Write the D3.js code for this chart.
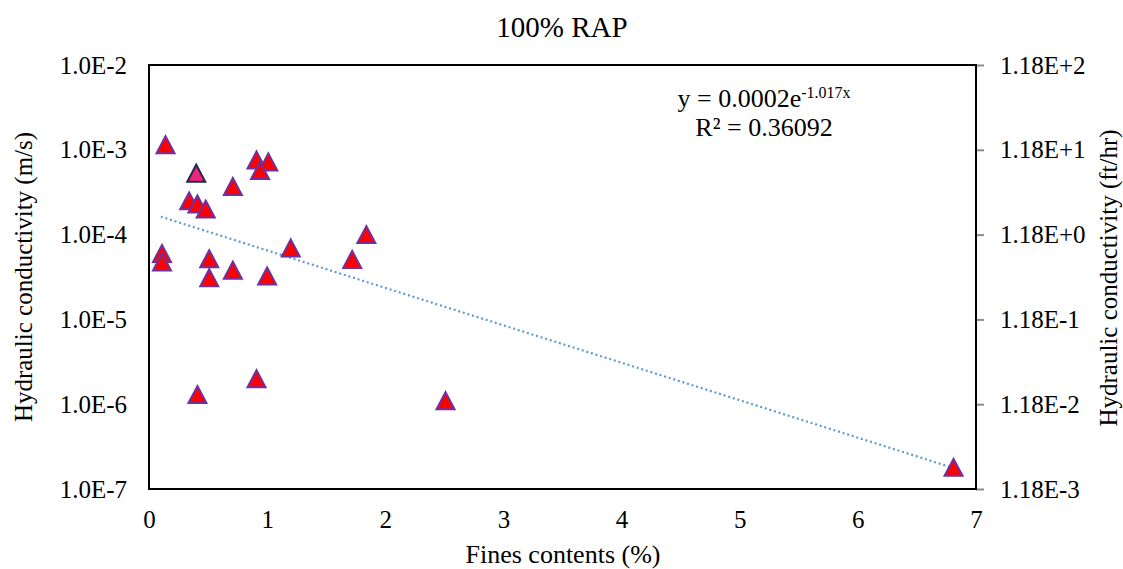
<!DOCTYPE html>
<html>
<head>
<meta charset="utf-8">
<script src="https://cdn.jsdelivr.net/npm/d3@7"></script>
<style>
  html, body { margin: 0; padding: 0; background: #fff; }
  svg { display: block; }
</style>
</head>
<body>
<svg id="chart" width="1123" height="569"></svg>
<script>
// Fines content (%) and hydraulic conductivity (m/s) for the 100% RAP specimens
const finesContent = [0.14, 0.91, 1.01, 0.94, 0.71, 0.34, 0.41, 0.48, 0.11, 0.11, 0.51, 0.51, 0.71, 1.00, 1.20, 1.84, 1.72, 0.41, 0.91, 2.51, 6.81];
const conductivity = [1.15e-3, 7.6e-4, 7.2e-4, 5.7e-4, 3.7e-4, 2.5e-4, 2.3e-4, 2.0e-4, 6.0e-5, 4.75e-5, 5.2e-5, 3.1e-5, 3.8e-5, 3.25e-5, 6.95e-5, 1.0e-4, 5.1e-5, 1.3e-6, 2.0e-6, 1.1e-6, 1.8e-7];

// Single specimen drawn with its own marker style
const markedFines = [0.40];
const markedConductivity = [5.3e-4];

// Exponential trendline y = a * e^(b x)
const trendA = 1.8e-4;
const trendB = -1.017;
const trendR2 = 0.36092;
const trendRange = [0.1, 6.8];

// Axis ticks
const xTicks = [0, 1, 2, 3, 4, 5, 6, 7];
const leftTicks = [1e-7, 1e-6, 1e-5, 1e-4, 1e-3, 1e-2];
const leftLabels = ["1.0E-7", "1.0E-6", "1.0E-5", "1.0E-4", "1.0E-3", "1.0E-2"];
const rightTicks = [1.18e-3, 1.18e-2, 1.18e-1, 1.18, 11.8, 118];
const rightLabels = ["1.18E-3", "1.18E-2", "1.18E-1", "1.18E+0", "1.18E+1", "1.18E+2"];

const FONT = "Liberation Serif";
const svg = d3.select("#chart");
const plot = { left: 149, right: 976, top: 65, bottom: 489 };

const x = d3.scaleLinear().domain([0, 7]).range([plot.left, plot.right]);
const y = d3.scaleLog().domain([1e-7, 1e-2]).range([plot.bottom, plot.top]);
const yRight = d3.scaleLog().domain([1.18e-3, 118]).range([plot.bottom, plot.top]);

function styleTicks(g) {
  g.attr("font-family", FONT).attr("font-size", 25);
  g.select(".domain").remove();
  g.selectAll(".tick text").attr("fill", "#000");
}

// Left axis (labels only)
svg.append("g")
  .attr("transform", `translate(${plot.left},0)`)
  .call(d3.axisLeft(y).tickValues(leftTicks).tickSize(0).tickPadding(22)
    .tickFormat((d, i) => leftLabels[i]))
  .call(styleTicks);

// Bottom axis (labels only)
svg.append("g")
  .attr("transform", `translate(0,${plot.bottom})`)
  .call(d3.axisBottom(x).tickValues(xTicks).tickSize(0).tickPadding(21)
    .tickFormat(d3.format("d")))
  .call(styleTicks);

// Right axis with short grey ticks
const rightAxis = svg.append("g")
  .attr("transform", `translate(${plot.right},0)`)
  .call(d3.axisRight(yRight).tickValues(rightTicks).tickSize(8).tickPadding(16)
    .tickFormat((d, i) => rightLabels[i]))
  .call(styleTicks);
rightAxis.selectAll(".tick line").attr("stroke", "#8c8c8c").attr("stroke-width", 2);

// Plot frame
svg.append("rect")
  .attr("x", plot.left).attr("y", plot.top)
  .attr("width", plot.right - plot.left).attr("height", plot.bottom - plot.top)
  .attr("fill", "none").attr("stroke", "#000").attr("stroke-width", 2);

// Trendline
const trendXs = d3.range(trendRange[0], trendRange[1] + 1e-9, 0.05);
svg.append("path")
  .datum(trendXs)
  .attr("fill", "none")
  .attr("stroke", "#5b9bd5")
  .attr("stroke-width", 2.2)
  .attr("stroke-dasharray", "2,2.8")
  .attr("d", d3.line().x(d => x(d)).y(d => y(trendA * Math.exp(trendB * d))));

// Triangle marker centred on its data point
const tri = (w, h) => `M0,${-h / 2}L${w / 2},${h / 2}L${-w / 2},${h / 2}Z`;

const points = finesContent.map((f, i) => ({ f, k: conductivity[i] }));
svg.append("g").selectAll("path")
  .data(points)
  .join("path")
  .attr("d", tri(18, 17))
  .attr("transform", d => `translate(${x(d.f)},${y(d.k)})`)
  .attr("fill", "#ff0000")
  .attr("stroke", "#7030a0")
  .attr("stroke-width", 2);

const marked = markedFines.map((f, i) => ({ f, k: markedConductivity[i] }));
svg.append("g").selectAll("path")
  .data(marked)
  .join("path")
  .attr("d", tri(18, 17))
  .attr("transform", d => `translate(${x(d.f)},${y(d.k)})`)
  .attr("fill", "#f5237a")
  .attr("stroke", "#1c2b4f")
  .attr("stroke-width", 2);

// Equation and R² label
const eq = svg.append("text")
  .attr("x", 764).attr("y", 107)
  .attr("text-anchor", "middle")
  .attr("font-family", FONT).attr("font-size", 26);
eq.append("tspan").text(`y = ${d3.format(".4f")(trendA)}e`);
eq.append("tspan").attr("dy", -9).attr("font-size", 16).text(`${trendB}x`);

svg.append("text")
  .attr("x", 764).attr("y", 136)
  .attr("text-anchor", "middle")
  .attr("font-family", FONT).attr("font-size", 26)
  .text(`R² = ${trendR2}`);

// Titles
svg.append("text")
  .attr("x", 562).attr("y", 37)
  .attr("text-anchor", "middle")
  .attr("font-family", FONT).attr("font-size", 29)
  .text("100% RAP");

svg.append("text")
  .attr("x", 563).attr("y", 563)
  .attr("text-anchor", "middle")
  .attr("font-family", FONT).attr("font-size", 26)
  .text("Fines contents (%)");

svg.append("text")
  .attr("transform", "translate(32,277) rotate(-90)")
  .attr("text-anchor", "middle")
  .attr("font-family", FONT).attr("font-size", 25)
  .text("Hydraulic conductivity (m/s)");

svg.append("text")
  .attr("transform", "translate(1117,278) rotate(-90)")
  .attr("text-anchor", "middle")
  .attr("font-family", FONT).attr("font-size", 25)
  .text("Hydraulic conductivity (ft/hr)");
</script>
</body>
</html>
